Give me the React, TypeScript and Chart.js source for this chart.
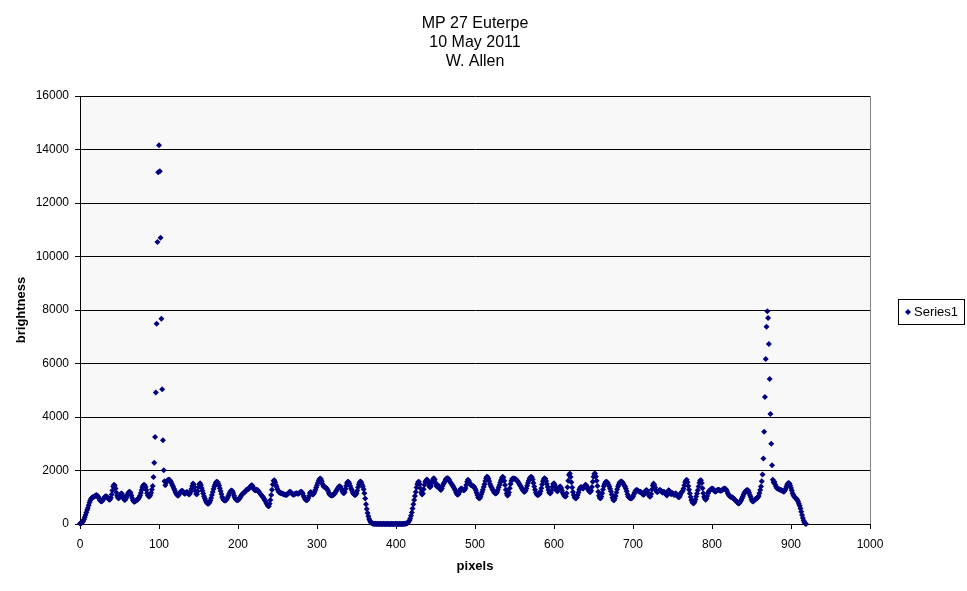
import React, { useEffect, useRef } from 'react';
import { Chart, registerables } from 'chart.js';

Chart.register(...registerables);

const TITLE_LINES = ['MP 27 Euterpe', '10 May 2011', 'W. Allen'];
const X_LABEL = 'pixels';
const Y_LABEL = 'brightness';
const SERIES_LABEL = 'Series1';

const X_MIN = 0;
const X_MAX = 1000;
const X_STEP = 100;
const Y_MIN = 0;
const Y_MAX = 16000;
const Y_STEP = 2000;

// brightness per pixel column, in runs; each run starts at the given pixel
const startEdge = 0;
const brightnessEdge = [
  20, 30, 40, 70, 110, 170, 250, 340, 430, 520,
  600, 700, 800, 880, 940, 980, 1000, 1010, 1030, 1050,
  1070, 1080, 1060, 1020, 960, 900, 860, 840, 860, 900,
  950, 1000, 1030, 1040, 1020, 980, 940, 910, 920, 980,
  1100, 1250, 1400, 1470, 1440, 1330, 1180, 1060, 980, 960,
  990, 1070, 1140, 1130, 1060, 970, 910, 900, 940, 1010,
  1090, 1160, 1200, 1210, 1160, 1070, 970, 890, 840, 830,
  850, 880, 900, 920, 950, 1000, 1070, 1160, 1270, 1370,
  1440, 1470, 1450, 1380, 1270, 1150, 1070, 1030, 1030, 1080,
  1170, 1290, 1420,
];

const startStarA = 93;
const brightnessStarA = [1760, 2290, 3250, 4920, 7490, 10540, 13150, 14156, 13190, 10700, 7675, 5035, 3130, 2010, 1600];

const startLeft = 108;
const brightnessLeft = [
  1450, 1540, 1600, 1640, 1650, 1650, 1630, 1580, 1510, 1450,
  1390, 1320, 1250, 1180, 1120, 1080, 1060, 1080, 1140, 1190,
  1220, 1240, 1230, 1190, 1140, 1130, 1160, 1200, 1190, 1140,
  1100, 1130, 1210, 1310, 1420, 1510, 1480, 1370, 1230, 1120,
  1110, 1220, 1370, 1490, 1520, 1450, 1350, 1240, 1140, 1040,
  950, 880, 820, 780, 760, 770, 810, 880, 970, 1080,
  1200, 1310, 1400, 1480, 1550, 1580, 1570, 1520, 1440, 1340,
  1230, 1120, 1010, 940, 900, 880, 880, 900, 940, 1000,
  1070, 1140, 1200, 1240, 1250, 1220, 1150, 1060, 980, 930,
  900, 890, 900, 920, 960, 1010, 1060, 1100, 1140, 1160,
  1180, 1210, 1250, 1280, 1300, 1310, 1330, 1360, 1410, 1450,
  1440, 1380, 1310, 1270, 1260, 1270, 1280, 1260, 1220, 1180,
  1140, 1100, 1070, 1030, 990, 940, 890, 840, 780, 720,
  670, 660, 760, 900, 1080, 1280, 1480, 1620, 1640, 1560,
  1460, 1380, 1300, 1230, 1190, 1170, 1160, 1150, 1140, 1120,
  1110, 1100, 1090, 1080, 1090, 1120, 1160, 1200, 1210, 1190,
  1150, 1110, 1090, 1100, 1120, 1140, 1150, 1140, 1130, 1140,
  1170, 1200, 1210, 1190, 1130, 1050, 980, 930, 900, 890,
  910, 970, 1060, 1160, 1200, 1170, 1110, 1100, 1140, 1210,
  1280, 1360, 1450, 1530, 1610, 1670, 1700, 1680, 1600, 1500,
  1420, 1380, 1370, 1360, 1340, 1300, 1230, 1160, 1100, 1080,
  1070, 1070, 1080, 1090, 1120, 1170, 1220, 1270, 1320, 1370,
  1400, 1410, 1380, 1310, 1230, 1170, 1150, 1200, 1310, 1430,
  1530, 1580, 1570, 1510, 1420, 1340, 1270, 1200, 1140, 1100,
  1080, 1090, 1150, 1250, 1370, 1480, 1560, 1590, 1560, 1480,
  1400, 1300, 1150, 950, 740,
];

const startGap = 363;
const brightnessGap = [
  560, 410, 290, 190, 120, 70, 40, 20, 10, 10,
  0, 10, 0, 0, 10, 0, 0, 10, 0, 0,
  0, 10, 0, 0, 0, 0, 10, 0, 0, 0,
  0, 10, 0, 0, 0, 0, 0, 10, 0, 0,
  0, 0, 10, 0, 0, 0, 10, 0, 10, 10,
  20, 30, 50, 80, 130, 210, 310, 430,
];

const startRight = 421;
const brightnessRight = [
  580, 740, 900, 1050, 1200, 1360, 1490, 1570, 1580, 1490,
  1330, 1180, 1100, 1140, 1300, 1460, 1570, 1630, 1660, 1640,
  1540, 1420, 1370, 1410, 1510, 1610, 1680, 1710, 1650, 1540,
  1440, 1390, 1420, 1430, 1360, 1290, 1270, 1330, 1420, 1500,
  1540, 1600, 1670, 1700, 1710, 1700, 1660, 1600, 1550, 1510,
  1470, 1420, 1370, 1320, 1260, 1190, 1120, 1090, 1110, 1180,
  1260, 1320, 1330, 1300, 1270, 1260, 1280, 1350, 1460, 1580,
  1650, 1630, 1560, 1490, 1450, 1440, 1430, 1410, 1380, 1330,
  1260, 1170, 1080, 1000, 960, 960, 1020, 1110, 1200, 1280,
  1380, 1490, 1610, 1710, 1770, 1760, 1690, 1600, 1500, 1420,
  1360, 1300, 1250, 1200, 1160, 1140, 1150, 1200, 1280, 1370,
  1460, 1550, 1640, 1720, 1770, 1740, 1620, 1460, 1280, 1140,
  1070, 1080, 1180, 1340, 1500, 1610, 1680, 1700, 1700, 1690,
  1680, 1660, 1640, 1600, 1550, 1500, 1450, 1400, 1350, 1290,
  1240, 1210, 1210, 1250, 1330, 1430, 1530, 1620, 1690, 1740,
  1770, 1750, 1660, 1530, 1400, 1280, 1180, 1110, 1080, 1080,
  1100, 1140, 1220, 1340, 1480, 1600, 1680, 1710, 1690, 1610,
  1500, 1380, 1270, 1180, 1140, 1170, 1260, 1390, 1500, 1520,
  1460, 1360, 1270, 1220, 1230, 1300, 1380, 1400, 1350, 1260,
  1170, 1110, 1060, 1030, 1040, 1150, 1370, 1620, 1830, 1890,
  1760, 1560, 1360, 1200, 1080, 1000, 960, 960, 1000, 1080,
  1180, 1280, 1350, 1380, 1370, 1340, 1330, 1370, 1440, 1470,
  1440, 1370, 1300, 1240, 1210, 1200, 1240, 1380, 1580, 1770,
  1880, 1890, 1780, 1620, 1420, 1210, 1060, 970, 960, 1030,
  1150, 1290, 1410, 1500, 1560, 1580, 1570, 1530, 1470, 1400,
  1320, 1220, 1100, 980, 900, 890, 950, 1050, 1180, 1300,
  1400, 1480, 1540, 1580, 1590, 1580, 1540, 1490, 1440, 1390,
  1320, 1220, 1110, 1030, 990, 970, 960, 960, 980, 1030,
  1100, 1170, 1230, 1270, 1270, 1250, 1220, 1210, 1210, 1200,
  1170, 1120, 1090, 1100, 1160, 1240, 1270, 1240, 1160, 1080,
  1030, 1030, 1120, 1290, 1440, 1510, 1460, 1360, 1260, 1210,
  1200, 1220, 1250, 1270, 1260, 1220, 1180, 1180, 1210, 1190,
  1140, 1090, 1070, 1150, 1260, 1240, 1170, 1120, 1120, 1160,
  1130, 1080, 1100, 1150, 1120, 1060, 1020, 1000, 1020, 1090,
  1170, 1210, 1240, 1330, 1450, 1560, 1630, 1650, 1560, 1420,
  1280, 1140, 1010, 900, 820, 780, 780, 830, 920, 1030,
  1140, 1260, 1400, 1540, 1630, 1640, 1530, 1340, 1150, 1020,
  940, 910, 950, 1050, 1150, 1220, 1250, 1280, 1310, 1330,
  1320, 1280, 1230, 1210, 1220, 1250, 1270, 1280, 1270, 1250,
  1240, 1250, 1270, 1300, 1320, 1330, 1320, 1280, 1220, 1150,
  1090, 1050, 1030, 1010, 1000, 990, 960, 930, 900, 880,
  850, 810, 780, 770, 790, 840, 900, 960, 1030, 1100,
  1160, 1210, 1240, 1260, 1270, 1240, 1170, 1080, 1010, 920,
  850, 840, 870, 900, 930, 950, 960, 990, 1050, 1150,
  1270, 1400, 1600,
];

const startStarB = 864;
const brightnessStarB = [1850, 2450, 3450, 4750, 6170, 7370, 7950, 7700, 6730, 5420, 4110, 3000, 2200, 1650];

const startTail = 878;
const brightnessTail = [
  1550, 1580, 1480, 1400, 1350, 1330, 1320, 1300, 1280, 1270,
  1260, 1240, 1220, 1210, 1240, 1300, 1380, 1460, 1510, 1530,
  1510, 1440, 1350, 1250, 1150, 1080, 1030, 990, 960, 940,
  900, 840, 760, 680, 580, 460, 340, 220, 130, 60,
  20, 0,
];

const RUNS: [number, number[]][] = [
  [startEdge, brightnessEdge],
  [startStarA, brightnessStarA],
  [startLeft, brightnessLeft],
  [startGap, brightnessGap],
  [startRight, brightnessRight],
  [startStarB, brightnessStarB],
  [startTail, brightnessTail],
];

const FONT = "'Liberation Sans', Arial, Helvetica, sans-serif";
const NAVY = '#000080';

export default function App() {
  const ref = useRef<HTMLCanvasElement | null>(null);

  useEffect(() => {
    const canvas = ref.current;
    if (!canvas) return;
    Chart.defaults.font.family = FONT;
    Chart.defaults.color = '#000';

    const points: { x: number; y: number }[] = [];
    RUNS.forEach(([start, vals]) => {
      vals.forEach((v, i) => points.push({ x: start + i, y: v }));
    });

    const plotArea = {
      id: 'plotArea',
      beforeDraw(chart: any) {
        const { ctx, chartArea: a } = chart;
        ctx.save();
        ctx.fillStyle = '#f8f8f8';
        ctx.fillRect(a.left, a.top, a.right - a.left, a.bottom - a.top);
        ctx.restore();
      },
      beforeDatasetsDraw(chart: any) {
        const { ctx, chartArea: a } = chart;
        ctx.save();
        ctx.strokeStyle = '#808080';
        ctx.lineWidth = 1;
        ctx.beginPath();
        ctx.moveTo(Math.round(a.right) + 0.5, a.top);
        ctx.lineTo(Math.round(a.right) + 0.5, a.bottom);
        ctx.stroke();
        ctx.restore();
      },
    };

    const boxLegend = {
      id: 'boxLegend',
      afterDraw(chart: any) {
        const { ctx } = chart;
        const x = 898.5;
        const y = 299.5;
        const w = 66;
        const h = 25;
        ctx.save();
        ctx.fillStyle = '#fff';
        ctx.fillRect(x, y, w, h);
        ctx.strokeStyle = '#000';
        ctx.lineWidth = 1;
        ctx.strokeRect(x, y, w, h);
        const cx = 908;
        const cy = y + h / 2;
        ctx.fillStyle = NAVY;
        ctx.beginPath();
        ctx.moveTo(cx - 3, cy);
        ctx.lineTo(cx, cy - 3);
        ctx.lineTo(cx + 3, cy);
        ctx.lineTo(cx, cy + 3);
        ctx.closePath();
        ctx.fill();
        ctx.fillStyle = '#000';
        ctx.font = `13px ${FONT}`;
        ctx.textAlign = 'left';
        ctx.textBaseline = 'middle';
        ctx.fillText(SERIES_LABEL, 914, cy + 0.5);
        ctx.restore();
      },
    };

    const chart = new Chart(canvas, {
      type: 'scatter',
      data: {
        datasets: [
          {
            label: SERIES_LABEL,
            data: points,
            pointStyle: 'rectRot',
            pointRadius: 3,
            pointHoverRadius: 3,
            backgroundColor: NAVY,
            borderColor: NAVY,
            borderWidth: 0,
            showLine: false,
            clip: false,
          } as any,
        ],
      },
      options: {
        responsive: false,
        animation: false,
        events: [],
        layout: { padding: { left: 0, top: 0, right: 97, bottom: 0 } },
        plugins: {
          legend: { display: false },
          tooltip: { enabled: false },
          title: {
            display: true,
            text: TITLE_LINES,
            fullSize: false,
            color: '#000',
            font: { size: 16, weight: 'normal', lineHeight: 1.2, family: FONT },
            padding: { top: 14, bottom: 24.4 },
          },
        },
        scales: {
          x: {
            type: 'linear',
            position: 'bottom',
            min: X_MIN,
            max: X_MAX,
            ticks: {
              stepSize: X_STEP,
              color: '#000',
              font: { size: 12, family: FONT },
              padding: 8,
              maxRotation: 0,
              callback: (v: any) => String(v),
            },
            grid: {
              display: true,
              drawOnChartArea: false,
              drawTicks: true,
              tickLength: 5,
              color: '#000',
            },
            border: { display: true, color: '#000', width: 1 },
            title: {
              display: true,
              text: X_LABEL,
              color: '#000',
              font: { size: 13, weight: 'bold', lineHeight: 1.2, family: FONT },
              padding: { top: 0, bottom: 17 },
            },
            afterFit: (scale: any) => {
              scale.height = 67;
            },
          },
          y: {
            type: 'linear',
            min: Y_MIN,
            max: Y_MAX,
            ticks: {
              stepSize: Y_STEP,
              color: '#000',
              font: { size: 12, family: FONT },
              padding: 6,
              callback: (v: any) => String(v),
            },
            grid: {
              display: true,
              drawOnChartArea: true,
              drawTicks: true,
              tickLength: 5,
              color: '#000',
            },
            border: { display: true, color: '#000', width: 1 },
            title: {
              display: true,
              text: Y_LABEL,
              color: '#000',
              font: { size: 13, weight: 'bold', lineHeight: 1.2, family: FONT },
              padding: { top: 14, bottom: 0 },
            },
            afterFit: (scale: any) => {
              scale.width = 80;
            },
          },
        },
      },
      plugins: [plotArea, boxLegend],
    });

    return () => chart.destroy();
  }, []);

  return (
    <div style={{ position: 'absolute', left: 0, top: 0, width: 967, height: 591, background: '#fff' }}>
      <canvas ref={ref} width={967} height={591} style={{ display: 'block' }} />
    </div>
  );
}
